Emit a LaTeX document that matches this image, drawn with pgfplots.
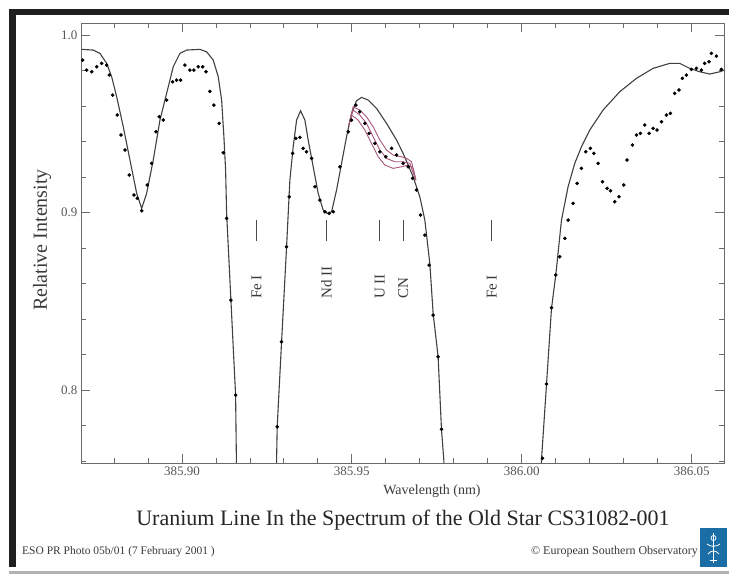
\documentclass[border=0pt]{standalone}
\usepackage{fontspec}
\setmainfont{Liberation Serif}
\usepackage{pgfplots}
\pgfplotsset{compat=1.18}
\definecolor{axgray}{HTML}{6A6A6A}
\definecolor{txtgray}{HTML}{3A3A3A}
\definecolor{tickgray}{HTML}{555555}
\definecolor{ured}{HTML}{A8557A}
\definecolor{esoblue}{HTML}{1B6EA5}
\begin{document}
\begin{tikzpicture}[x=1pt,y=1pt]
\fill[white] (0,0) rectangle (729,574);
\path[use as bounding box] (0,0) rectangle (729,574);
% scan frame
\fill[black!88] (9,559) rectangle (729,565);
\fill[black!88] (9,7) rectangle (15.5,565);
\fill[black!30] (9,0) rectangle (729,3);
\begin{axis}[at={(81pt,111pt)}, anchor=south west, scale only axis,
  width=643pt, height=440pt,
  xmin=-29.7, xmax=159.5, ymin=0.7589, ymax=1.0068,
  xtick={0,50,100,150}, xticklabels={385.90,385.95,386.00,386.05},
  minor xtick={-20,-10,10,20,30,40,60,70,80,90,110,120,130,140},
  ytick={0.8,0.9,1.0},
  minor ytick={0.76,0.78,0.82,0.84,0.86,0.88,0.92,0.94,0.96,0.98},
  scaled x ticks=false, scaled y ticks=false,
  yticklabel style={/pgf/number format/fixed, /pgf/number format/fixed zerofill, /pgf/number format/precision=1},
  /pgf/number format/assume math mode=true,
  tick label style={font=\fontsize{13}{15}\selectfont, text=tickgray},
  tick align=inside, major tick length=9pt, minor tick length=5pt,
  axis line style={axgray, line width=0.9pt},
  every tick/.style={axgray, line width=0.8pt},
  clip=true]
% synthetic spectrum (model)
\addplot[color=black!75, line width=1.1pt] table {
x y
-29.50 0.99194
-26.09 0.99155
-24.12 0.98969
-22.15 0.98406
-20.68 0.97651
-19.21 0.96524
-17.26 0.94834
-15.29 0.92958
-13.32 0.91082
-11.85 0.90237
-10.38 0.91082
-8.44 0.92958
-6.47 0.95211
-4.50 0.96715
-2.56 0.98214
-0.59 0.98969
1.38 0.99155
5.29 0.99194
7.26 0.99059
9.21 0.98592
10.68 0.97651
11.68 0.96338
12.35 0.94270
12.85 0.92394
13.15 0.89955
14.41 0.85070
15.79 0.79718
16.03 0.75944
16.32 0.74
27.71 0.74
27.85 0.76056
28.03 0.77932
29.32 0.82721
30.79 0.88073
31.76 0.91831
32.74 0.93707
33.74 0.95211
34.91 0.95735
36.18 0.95211
37.15 0.94085
38.62 0.92580
40.09 0.91082
41.56 0.90141
42.74 0.89955
44.03 0.90045
45.50 0.91268
46.97 0.92772
48.44 0.94270
49.91 0.95589
51.38 0.96299
52.85 0.96490
54.79 0.96338
57.26 0.95870
60.21 0.95025
63.15 0.94085
65.09 0.93335
66.56 0.92676
68.03 0.92017
70.00 0.90890
71.47 0.89577
72.94 0.87138
73.91 0.84321
75.38 0.81876
76.38 0.77746
77.06 0.76056
77.30 0.74
105.65 0.74
105.79 0.76056
107.26 0.80282
108.74 0.84603
110.00 0.86479
111.68 0.89577
113.62 0.91454
115.59 0.92772
117.56 0.93707
120.00 0.94648
123.91 0.95775
128.82 0.96806
133.74 0.97561
138.62 0.98124
143.53 0.98406
146.47 0.98406
149.41 0.98124
152.35 0.97932
155.29 0.97803
158.24 0.97932
159.71 0.98028
};
% U II synthetic variants
\addplot[color=ured, line width=0.9pt] table {
x y
49.12 0.94930
50.38 0.95961
52.35 0.95775
54.32 0.95397
56.26 0.94834
58.24 0.94085
60.21 0.93521
62.15 0.93239
64.62 0.93144
66.09 0.93053
67.56 0.92862
68.82 0.91831
};
\addplot[color=ured, line width=0.9pt] table {
x y
49.12 0.94930
50.38 0.95775
52.35 0.95493
54.32 0.95025
56.26 0.94270
58.24 0.93521
60.21 0.93053
62.65 0.92862
65.09 0.92862
67.06 0.92772
68.82 0.91831
};
\addplot[color=ured, line width=0.9pt] table {
x y
49.12 0.94930
49.91 0.95493
51.85 0.95211
53.82 0.94648
55.79 0.93898
57.74 0.93144
59.71 0.92676
62.15 0.92490
64.62 0.92580
66.56 0.92676
68.03 0.92490
68.82 0.91831
};
% observed spectrum
\addplot[only marks, mark=*, mark size=1.6pt, color=black] table {
x y
-29.21 0.98592
-28.03 0.98028
-26.56 0.97932
-25.09 0.98214
-23.62 0.98406
-22.15 0.98310
-21.38 0.97746
-20.38 0.96620
-19.03 0.95493
-17.94 0.94366
-16.76 0.93521
-15.50 0.92113
-14.12 0.90986
-13.15 0.90800
-11.85 0.90101
-10.21 0.91549
-8.91 0.92772
-7.65 0.94552
-6.68 0.95397
-5.50 0.95211
-4.50 0.96338
-2.74 0.97369
-1.56 0.97465
-0.38 0.97465
0.88 0.98310
2.35 0.98028
3.53 0.98028
4.79 0.98214
6.09 0.98214
7.06 0.97932
8.24 0.96828
9.41 0.96056
10.97 0.95025
12.15 0.93369
13.15 0.89673
14.41 0.85070
15.79 0.79718
28.03 0.77932
29.32 0.82721
30.79 0.88073
31.56 0.90890
32.56 0.93335
33.53 0.94180
34.71 0.94237
35.68 0.93617
36.68 0.93425
38.15 0.93053
39.12 0.91454
40.59 0.90704
42.06 0.90045
43.32 0.89955
44.50 0.90045
46.47 0.92580
48.91 0.94552
49.91 0.95211
51.18 0.96056
52.35 0.95679
53.82 0.95025
55.09 0.94462
56.76 0.93898
58.24 0.93425
60.00 0.93144
61.68 0.93617
63.15 0.93239
65.09 0.92772
66.56 0.92580
67.85 0.91927
69.03 0.91268
70.21 0.89859
71.47 0.88732
72.74 0.87042
73.91 0.84225
75.38 0.81876
76.38 0.77786
106.09 0.76152
107.26 0.80338
108.74 0.84637
110.00 0.86479
111.18 0.87510
112.65 0.88546
113.62 0.89577
115.09 0.90518
116.26 0.91645
117.56 0.92490
118.82 0.93425
120.20 0.93617
121.18 0.93335
122.44 0.92772
123.74 0.91735
125.09 0.91363
126.09 0.91228
127.35 0.90608
128.62 0.90890
130.00 0.91549
130.97 0.92958
132.56 0.93803
133.74 0.94366
134.91 0.94462
136.18 0.94930
137.44 0.94462
138.62 0.94744
139.80 0.94648
141.09 0.95115
142.56 0.95493
143.74 0.95589
145.00 0.96715
146.26 0.96901
147.26 0.97561
148.44 0.97746
149.91 0.98068
151.38 0.98124
152.85 0.98028
153.82 0.98406
155.09 0.98496
155.79 0.98969
157.26 0.98817
158.74 0.98068
};
% line identifications
\foreach \lx/\lab in {21.97/{Fe I}, 42.56/{Nd II}, 58.24/{U II}, 65.09/{CN}, 91.18/{Fe I}} {
  \edef\tmp{\noexpand\draw[black!70, line width=0.9pt] (axis cs:\lx,0.8839) -- (axis cs:\lx,0.8958);}\tmp
  \edef\tmp{\noexpand\node[rotate=90, anchor=west, inner sep=0pt, text=txtgray, font=\noexpand\fontsize{15}{17}\noexpand\selectfont] at (axis cs:\lx,0.8513) {\lab};}\tmp
}
\end{axis}
% labels and captions
\node[text=txtgray, font=\fontsize{14}{16}\selectfont] at (432,83) {Wavelength (nm)};
\node[text=txtgray, rotate=90, font=\fontsize{20}{22}\selectfont] at (42,334) {Relative Intensity};
\node[text=black!85, font=\fontsize{22}{26}\selectfont] at (403,54) {Uranium Line In the Spectrum of the Old Star CS31082-001};
\node[text=txtgray, anchor=west, inner sep=0pt, font=\fontsize{11.5}{13}\selectfont] at (22,22) {ESO PR Photo 05b/01 (7 February 2001 )};
\node[text=txtgray, anchor=east, inner sep=0pt, font=\fontsize{12}{14}\selectfont] at (698,22) {\textcopyright{} European Southern Observatory};
% ESO logo
\fill[esoblue] (700,7) rectangle (727,46);
\draw[white, line width=1pt] (713.5,11) -- (713.5,41);
\draw[white, line width=0.8pt] (713.5,36) circle (2.5);
\draw[white, line width=0.8pt] (707,30) .. controls (710,27) and (717,27) .. (720,30);
\draw[white, line width=0.8pt] (708,20) .. controls (711,24) and (716,24) .. (719,20);
\draw[white, line width=0.8pt] (710,14) -- (717,14);
\end{tikzpicture}
\end{document}
